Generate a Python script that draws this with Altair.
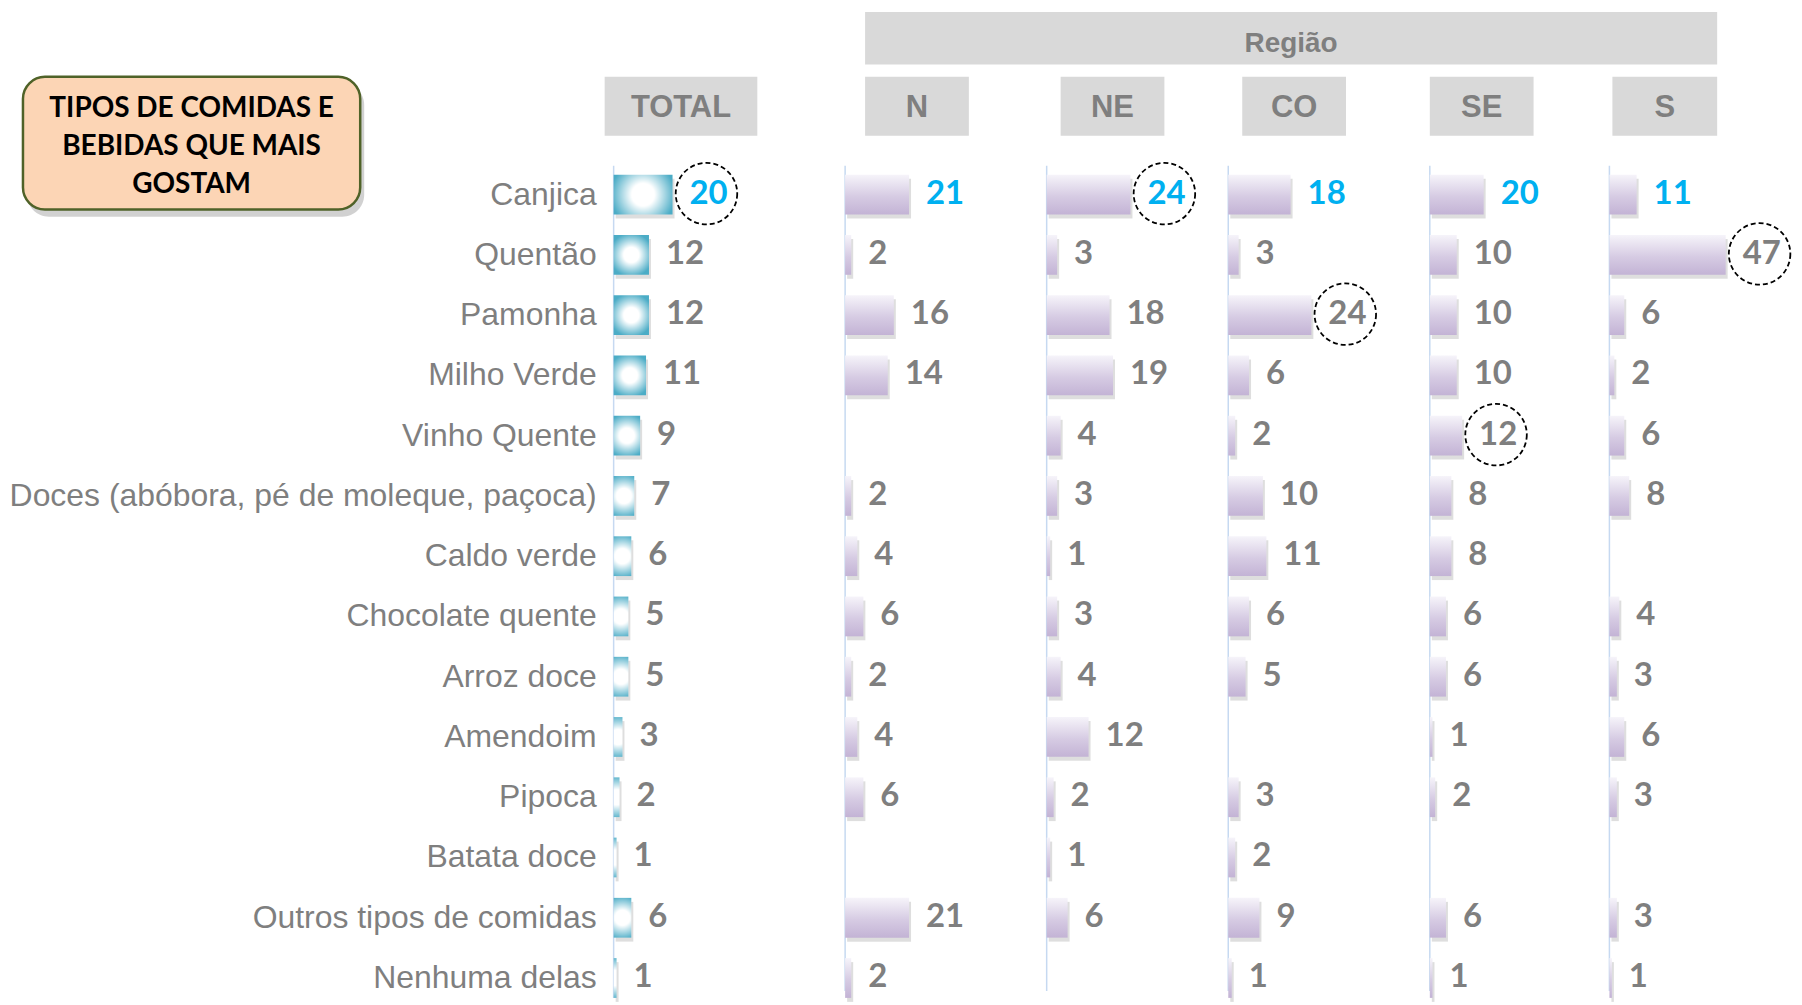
import altair as alt
import pandas as pd

# ---------------- data ----------------
categories = [
    "Canjica", "Quentão", "Pamonha", "Milho Verde", "Vinho Quente",
    "Doces (abóbora, pé de moleque, paçoca)", "Caldo verde", "Chocolate quente",
    "Arroz doce", "Amendoim", "Pipoca", "Batata doce",
    "Outros tipos de comidas", "Nenhuma delas",
]
panel_names = ["TOTAL", "N", "NE", "CO", "SE", "S"]
total_vals = [20, 12, 12, 11, 9, 7, 6, 5, 5, 3, 2, 1, 6, 1]
n_vals = [21, 2, 16, 14, None, 2, 4, 6, 2, 4, 6, None, 21, 2]
ne_vals = [24, 3, 18, 19, 4, 3, 1, 3, 4, 12, 2, 1, 6, None]
co_vals = [18, 3, 24, 6, 2, 10, 11, 6, 5, None, 3, 2, 9, 1]
se_vals = [20, 10, 10, 10, 12, 8, 8, 6, 6, 1, 2, None, 6, 1]
s_vals = [11, 47, 6, 2, 6, 8, None, 4, 3, 6, 3, None, 3, 1]
circled = [("TOTAL", "Canjica"), ("NE", "Canjica"), ("CO", "Pamonha"),
           ("SE", "Vinho Quente"), ("S", "Quentão")]
highlight_row = "Canjica"
title_text = "TIPOS DE COMIDAS E\nBEBIDAS QUE MAIS\nGOSTAM"
group_title = "Região"

series = {"TOTAL": total_vals, "N": n_vals, "NE": ne_vals,
          "CO": co_vals, "SE": se_vals, "S": s_vals}

# ---------------- layout / style ----------------
panel_width = {"TOTAL": 232, "N": 202, "NE": 182, "CO": 202, "SE": 180, "S": 178}
x_max = {"TOTAL": 78.6, "N": 66.2, "NE": 52, "CO": 58.2, "SE": 66.7, "S": 71.8}
header_box = {"TOTAL": (-9, 144), "N": (20, 124), "NE": (14, 118),
              "CO": (14, 118), "SE": (0, 104), "S": (3, 108)}
PLOT_H = 825
GREY = "#7f7f7f"
BLUE = "#00b0f0"
LINE = "#c6d9f1"

rows = []
for p in panel_names:
    for c, v in zip(categories, series[p]):
        if v is None:
            continue
        rows.append({"panel": p, "cat": c, "value": v,
                     "lc": BLUE if c == highlight_row else GREY,
                     "circ": (p, c) in circled})
df = pd.DataFrame(rows)

lavender = alt.Gradient(
    gradient="linear",
    stops=[alt.GradientStop(color="#f6f4fa", offset=0),
           alt.GradientStop(color="#d6cbe3", offset=0.55),
           alt.GradientStop(color="#c3b3d5", offset=1)],
    x1=0, x2=0, y1=0, y2=1,
)
cyan = alt.Gradient(
    gradient="radial",
    stops=[alt.GradientStop(color="#ffffff", offset=0),
           alt.GradientStop(color="#ffffff", offset=0.35),
           alt.GradientStop(color="#4bacc6", offset=1)],
    x1=0.5, y1=0.5, x2=0.5, y2=0.5, r1=0, r2=0.55,
)


def make_panel(p):
    d = df[df.panel == p]
    yscale = alt.Scale(domain=categories, paddingInner=0.34, paddingOuter=0)
    if p == "TOTAL":
        yaxis = alt.Axis(title=None, ticks=False, domain=False,
                         labelFont="Liberation Sans", labelFontSize=32,
                         labelColor=GREY, labelPadding=17.5, labelLimit=900)
    else:
        yaxis = None
    y = alt.Y("cat:N", sort=categories, scale=yscale, axis=yaxis)
    x = alt.X("value:Q", scale=alt.Scale(domain=[0, x_max[p]], nice=False), axis=None)

    base = alt.Chart(d)
    shadow = base.mark_bar(color="#000000", opacity=0.13, yOffset=4, xOffset=2).encode(x=x, y=y)
    bars = base.mark_bar(color=cyan if p == "TOTAL" else lavender).encode(x=x, y=y)
    labels = base.mark_text(align="left", baseline="middle", dx=17, dy=-1,
                            font="Lato", fontWeight="bold", fontSize=33).encode(
        x=x, y=y, text="value:Q", color=alt.Color("lc:N", scale=None))
    circles = base.transform_filter("datum.circ").mark_point(
        shape="circle", size=3800, filled=False, stroke="black", strokeWidth=1.8,
        strokeDash=[5, 3], xOffset=34, yOffset=-1, opacity=1).encode(x=x, y=y)

    hdr = pd.DataFrame({"t": [p]})
    a, b = header_box[p]
    hbox = alt.Chart(hdr).mark_rect(color="#d9d9d9").encode(
        x=alt.value(a), x2=alt.value(b), y=alt.value(-98.1), y2=alt.value(-39.1))
    htext = alt.Chart(hdr).mark_text(
        font="Liberation Sans", fontWeight="bold", fontSize=31, color=GREY,
        align="center", baseline="alphabetic").encode(
        x=alt.value((a + b) / 2), y=alt.value(-58.3), text="t:N")
    rule = alt.Chart(hdr).mark_rule(color=LINE, strokeWidth=1.5).encode(
        x=alt.value(0), y=alt.value(-9.1),
        y2=alt.value(PLOT_H if p == "TOTAL" else 818))

    layers = [rule, hbox, htext, shadow, bars, labels, circles]

    if p == "TOTAL":
        tdf = pd.DataFrame({"t": [title_text]})
        anchor = alt.Chart(tdf).mark_rect(color="#ffffff").encode(
            x=alt.value(-607), x2=alt.value(-606), y=alt.value(-165.1), y2=alt.value(-164))
        tshadow = alt.Chart(tdf).mark_rect(color="#000000", opacity=0.18, cornerRadius=22).encode(
            x=alt.value(-588), x2=alt.value(-250), y=alt.value(-92), y2=alt.value(42))
        tbox = alt.Chart(tdf).mark_rect(fill="#fcd5b5", stroke="#4f6228", strokeWidth=2.5,
                                        cornerRadius=22).encode(
            x=alt.value(-592), x2=alt.value(-254), y=alt.value(-98.1), y2=alt.value(34.9))
        ttext = alt.Chart(tdf).mark_text(
            font="Lato", fontWeight="bold", fontSize=28, color="#000000",
            align="center", baseline="alphabetic", lineBreak="\n", lineHeight=38).encode(
            x=alt.value(-423), y=alt.value(-58.1), text="t:N")
        layers = [anchor, tshadow, tbox, ttext] + layers

    if p == "N":
        gdf = pd.DataFrame({"t": [group_title]})
        gbox = alt.Chart(gdf).mark_rect(color="#d9d9d9").encode(
            x=alt.value(20), x2=alt.value(874), y=alt.value(-163.1), y2=alt.value(-110.4))
        gtext = alt.Chart(gdf).mark_text(
            font="Liberation Sans", fontWeight="bold", fontSize=28, color=GREY,
            align="center", baseline="alphabetic").encode(
            x=alt.value(447), y=alt.value(-123.1), text="t:N")
        layers = [gbox, gtext] + layers

    return alt.layer(*layers).properties(width=panel_width[p], height=PLOT_H)


chart = alt.hconcat(
    *[make_panel(p) for p in panel_names], spacing=0, bounds="flush", padding=0
).configure_view(stroke=None)

chart.save("out.html", embed_options={"renderer": "svg", "actions": False})
